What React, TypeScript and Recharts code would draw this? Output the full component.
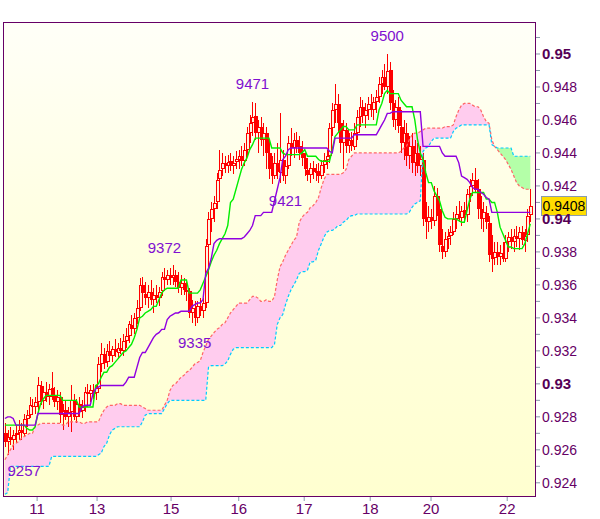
import { ComposedChart, XAxis, YAxis, Area, Line, Bar, ReferenceDot, ReferenceLine } from 'recharts';

// hourly bars, prices in pips (9408 = 0.9408)
const opens = [
  9270, 9265, 9268, 9266, 9269, 9270, 9272, 9270, 9279, 9281,
  9287, 9286, 9289, 9299, 9290, 9295, 9292, 9297, 9293, 9289,
  9292, 9281, 9284, 9280, 9283, 9290, 9280, 9288, 9283, 9286,
  9295, 9294, 9296, 9294, 9297, 9312, 9318, 9313, 9320, 9317,
  9321, 9319, 9322, 9320, 9326, 9329, 9336, 9333, 9340, 9346,
  9360, 9355, 9352, 9356, 9351, 9354, 9352, 9356, 9365, 9363,
  9366, 9364, 9366, 9362, 9358, 9361, 9357, 9356, 9343, 9346,
  9340, 9347, 9344, 9349, 9384, 9400, 9406, 9410, 9424, 9430,
  9434, 9432, 9435, 9432, 9434, 9436, 9438, 9435, 9442, 9452,
  9458, 9462, 9452, 9456, 9448, 9452, 9440, 9430, 9426, 9434,
  9428, 9436, 9426, 9432, 9446, 9443, 9448, 9444, 9440, 9437,
  9430, 9427, 9431, 9428, 9429, 9426, 9433, 9436, 9438, 9455,
  9466, 9470, 9458, 9446, 9454, 9444, 9448, 9444, 9452, 9462,
  9468, 9462, 9466, 9470, 9466, 9471, 9474, 9482, 9486, 9480,
  9490, 9470, 9460, 9468, 9456, 9446, 9452, 9438, 9444, 9434,
  9440, 9432, 9436, 9400, 9398, 9401, 9399, 9414, 9406, 9384,
  9380, 9388, 9390, 9392, 9400, 9403, 9401, 9405, 9402, 9415,
  9420, 9424, 9418, 9406, 9400, 9404, 9398, 9378, 9376, 9380,
  9377, 9379, 9376, 9386, 9389, 9386, 9390, 9388, 9392, 9387,
  9390, 9402,
];
const highs = [
  9276, 9272, 9274, 9272, 9275, 9278, 9276, 9282, 9284, 9292,
  9291, 9292, 9304, 9302, 9298, 9301, 9300, 9307, 9298, 9296,
  9295, 9288, 9290, 9286, 9299, 9294, 9291, 9292, 9290, 9298,
  9300, 9299, 9300, 9299, 9316, 9325, 9322, 9324, 9326, 9323,
  9327, 9325, 9328, 9330, 9334, 9338, 9342, 9343, 9351, 9364,
  9365, 9362, 9360, 9363, 9358, 9360, 9359, 9368, 9370, 9369,
  9370, 9372, 9369, 9368, 9366, 9364, 9362, 9358, 9351, 9350,
  9350, 9352, 9352, 9388, 9404, 9410, 9414, 9428, 9442, 9440,
  9438, 9439, 9440, 9438, 9441, 9442, 9444, 9446, 9456, 9463,
  9471, 9470, 9460, 9462, 9458, 9456, 9448, 9438, 9440, 9446,
  9464, 9442, 9436, 9450, 9455, 9452, 9453, 9450, 9447, 9440,
  9436, 9434, 9435, 9433, 9434, 9436, 9440, 9442, 9458, 9470,
  9482, 9476, 9464, 9460, 9458, 9452, 9453, 9458, 9466, 9474,
  9472, 9470, 9474, 9476, 9474, 9478, 9486, 9490, 9494, 9500,
  9495, 9478, 9472, 9474, 9466, 9460, 9458, 9450, 9452, 9448,
  9446, 9444, 9440, 9410, 9408, 9406, 9420, 9419, 9412, 9394,
  9392, 9394, 9396, 9404, 9408, 9411, 9408, 9410, 9418, 9424,
  9428, 9431, 9424, 9414, 9410, 9408, 9402, 9390, 9386, 9386,
  9384, 9386, 9390, 9392, 9394, 9394, 9396, 9395, 9396, 9394,
  9406, 9418,
];
const lows = [
  9262, 9257, 9263, 9260, 9264, 9266, 9266, 9268, 9274, 9279,
  9283, 9282, 9284, 9287, 9285, 9289, 9287, 9290, 9286, 9284,
  9276, 9272, 9278, 9274, 9271, 9278, 9276, 9280, 9279, 9283,
  9290, 9289, 9291, 9290, 9295, 9307, 9309, 9310, 9314, 9313,
  9316, 9315, 9318, 9317, 9322, 9325, 9330, 9330, 9336, 9344,
  9350, 9348, 9346, 9348, 9343, 9349, 9347, 9353, 9359, 9360,
  9360, 9360, 9359, 9355, 9354, 9354, 9350, 9340, 9337, 9335,
  9337, 9341, 9340, 9346, 9380, 9392, 9398, 9406, 9418, 9426,
  9428, 9428, 9429, 9427, 9430, 9430, 9432, 9432, 9438, 9446,
  9450, 9448, 9440, 9444, 9438, 9430, 9424, 9421, 9424, 9424,
  9422, 9423, 9421, 9430, 9438, 9437, 9440, 9436, 9432, 9426,
  9423, 9422, 9424, 9423, 9422, 9424, 9428, 9430, 9434, 9450,
  9458, 9452, 9440, 9430, 9440, 9440, 9441, 9442, 9448, 9456,
  9458, 9455, 9460, 9462, 9460, 9464, 9470, 9476, 9478, 9476,
  9466, 9456, 9454, 9452, 9440, 9436, 9432, 9430, 9428, 9426,
  9428, 9426, 9396, 9388, 9392, 9394, 9396, 9402, 9380, 9376,
  9377, 9382, 9384, 9390, 9394, 9398, 9396, 9398, 9398, 9410,
  9414, 9416, 9400, 9394, 9392, 9394, 9374, 9368, 9372, 9372,
  9372, 9374, 9374, 9380, 9382, 9380, 9383, 9381, 9384, 9380,
  9386, 9398,
];
const closes = [
  9265, 9268, 9266, 9269, 9270, 9272, 9270, 9279, 9281, 9287,
  9286, 9289, 9299, 9290, 9295, 9292, 9297, 9293, 9289, 9292,
  9281, 9284, 9280, 9283, 9290, 9280, 9288, 9283, 9286, 9295,
  9294, 9296, 9294, 9297, 9312, 9318, 9313, 9320, 9317, 9321,
  9319, 9322, 9320, 9326, 9329, 9336, 9333, 9340, 9346, 9360,
  9355, 9352, 9356, 9351, 9354, 9352, 9356, 9365, 9363, 9366,
  9364, 9366, 9362, 9358, 9361, 9357, 9356, 9343, 9346, 9340,
  9347, 9344, 9349, 9384, 9400, 9406, 9410, 9424, 9430, 9434,
  9432, 9435, 9432, 9434, 9436, 9438, 9435, 9442, 9452, 9458,
  9462, 9452, 9456, 9448, 9452, 9440, 9430, 9426, 9434, 9428,
  9436, 9426, 9432, 9446, 9443, 9448, 9444, 9440, 9437, 9430,
  9427, 9431, 9428, 9429, 9426, 9433, 9436, 9438, 9455, 9466,
  9470, 9458, 9446, 9454, 9444, 9448, 9444, 9452, 9462, 9468,
  9462, 9466, 9470, 9466, 9471, 9474, 9482, 9486, 9480, 9490,
  9470, 9460, 9468, 9456, 9446, 9452, 9438, 9444, 9434, 9440,
  9432, 9436, 9400, 9398, 9401, 9399, 9414, 9406, 9384, 9380,
  9388, 9390, 9392, 9400, 9403, 9401, 9405, 9402, 9415, 9420,
  9424, 9418, 9406, 9400, 9404, 9398, 9378, 9376, 9380, 9377,
  9379, 9376, 9386, 9389, 9386, 9390, 9388, 9392, 9387, 9390,
  9402, 9408,
];

// ichimoku lines
const tenkan = [
  9275, 9275, 9275, 9275, 9275, 9275, 9275, 9275, 9273, 9272,
  9272, 9274, 9282, 9288, 9291, 9293, 9293, 9293, 9293, 9293,
  9293, 9290, 9290, 9290, 9290, 9290, 9290, 9286, 9286, 9286,
  9286, 9286, 9286, 9299, 9300, 9304, 9307, 9307, 9310, 9311,
  9313, 9315, 9317, 9319, 9320, 9322, 9324, 9328, 9333, 9340,
  9341, 9343, 9344, 9345, 9347, 9347, 9351, 9355, 9357, 9358,
  9358, 9358, 9358, 9358, 9363, 9363, 9363, 9355, 9355, 9355,
  9355, 9357, 9361, 9365, 9369, 9374, 9378, 9381, 9385, 9388,
  9391, 9396, 9410, 9412, 9418, 9424, 9430, 9434, 9437, 9442,
  9445, 9449, 9449, 9449, 9449, 9449, 9449, 9443, 9443, 9443,
  9443, 9440, 9439, 9439, 9439, 9439, 9439, 9439, 9440, 9442,
  9438, 9438, 9438, 9438, 9436, 9435, 9435, 9435, 9435, 9442,
  9450, 9452, 9454, 9456, 9456, 9454, 9454, 9454, 9457, 9457,
  9457, 9457, 9457, 9457, 9457, 9457, 9466, 9470, 9476, 9478,
  9476, 9476, 9476, 9476, 9472, 9470, 9468, 9468, 9468, 9460,
  9448, 9440, 9436, 9428, 9422, 9422, 9417, 9414, 9411, 9405,
  9401, 9400, 9400, 9400, 9400, 9399, 9398, 9398, 9405, 9412,
  9416, 9416, 9416, 9416, 9416, 9412, 9412, 9410, 9410, 9404,
  9395, 9391, 9387, 9383, 9383, 9382, 9382, 9382, 9382, 9385,
  9391, 9397,
];
const kijun = [
  9279, 9280, 9280, 9279, 9275, 9275, 9275, 9275, 9275, 9275,
  9275, 9275, 9282, 9282, 9282, 9282, 9282, 9282, 9282, 9282,
  9282, 9282, 9282, 9282, 9282, 9282, 9282, 9282, 9286, 9287,
  9287, 9287, 9294, 9297, 9298, 9299, 9299, 9299, 9299, 9299,
  9299, 9299, 9299, 9299, 9301, 9304, 9304, 9304, 9310, 9316,
  9319, 9319, 9322, 9325, 9328, 9330, 9331, 9333, 9333, 9339,
  9341, 9342, 9343, 9343, 9344, 9344, 9344, 9344, 9347, 9348,
  9349, 9349, 9351, 9367, 9370, 9376, 9385, 9387, 9388, 9388,
  9388, 9388, 9388, 9388, 9388, 9388, 9388, 9389, 9391, 9393,
  9396, 9402, 9402, 9402, 9404, 9404, 9404, 9404, 9411, 9418,
  9425, 9436, 9438, 9442, 9443, 9443, 9443, 9443, 9443, 9443,
  9443, 9443, 9443, 9443, 9443, 9443, 9443, 9443, 9441, 9440,
  9449, 9449, 9449, 9449, 9449, 9449, 9449, 9451, 9451, 9451,
  9451, 9451, 9451, 9451, 9451, 9451, 9454, 9457, 9460, 9464,
  9464, 9465, 9465, 9465, 9465, 9465, 9465, 9465, 9465, 9465,
  9465, 9465, 9444, 9444, 9444, 9444, 9444, 9444, 9444, 9440,
  9438, 9438, 9438, 9438, 9438, 9434, 9426, 9425, 9424, 9422,
  9419, 9418, 9418, 9416, 9415, 9413, 9412, 9404, 9404, 9404,
  9404, 9404, 9404, 9404, 9404, 9404, 9404, 9404, 9404, 9404,
  9404, 9404,
];
const spanA = [
  9254, 9257, 9260, 9263, 9264, 9265, 9267, 9268, 9269, 9270,
  9270, 9274, 9275, 9276, 9276, 9276, 9276, 9276, 9276, 9276,
  9276, 9275, 9275, 9277, 9277, 9277, 9277, 9277, 9276, 9276,
  9277, 9277, 9277, 9277, 9277, 9281, 9284, 9286, 9287, 9287,
  9287, 9288, 9288, 9287, 9287, 9287, 9287, 9287, 9287, 9287,
  9286, 9285, 9284, 9284, 9284, 9284, 9284, 9284, 9287, 9290,
  9296, 9299, 9300, 9302, 9304, 9305, 9307, 9308, 9310, 9312,
  9313, 9314, 9319, 9323, 9327, 9329, 9331, 9333, 9334, 9336,
  9337, 9340, 9343, 9345, 9347, 9349, 9349, 9349, 9349, 9351,
  9353, 9353, 9352, 9350, 9350, 9351, 9350, 9350, 9353, 9363,
  9371, 9374, 9378, 9381, 9384, 9387, 9389, 9398, 9401, 9403,
  9404, 9407, 9408, 9410, 9413, 9419, 9424, 9427, 9427, 9427,
  9427, 9427, 9427, 9428, 9430, 9436, 9438, 9440, 9440, 9440,
  9440, 9440, 9440, 9440, 9440, 9440, 9440, 9440, 9440, 9440,
  9440, 9440, 9440, 9440, 9441, 9443, 9444, 9448, 9451, 9452,
  9452, 9453, 9454, 9455, 9455, 9455, 9455, 9455, 9455, 9455,
  9456, 9456, 9456, 9457, 9462, 9466, 9469, 9470, 9470, 9470,
  9469, 9468, 9468, 9466, 9462, 9459, 9458, 9448, 9444, 9442,
  9440, 9438, 9436, 9433, 9430, 9426, 9422, 9420, 9419, 9418,
  9418, 9418,
];
const spanB = [
  9233, 9234, 9250, 9250, 9250, 9250, 9250, 9250, 9250, 9250,
  9250, 9250, 9250, 9250, 9250, 9250, 9250, 9256, 9256, 9256,
  9256, 9256, 9256, 9256, 9256, 9256, 9256, 9256, 9256, 9256,
  9256, 9256, 9256, 9256, 9257, 9258, 9262, 9264, 9269, 9272,
  9273, 9274, 9274, 9274, 9274, 9274, 9274, 9274, 9274, 9274,
  9277, 9281, 9282, 9282, 9282, 9282, 9282, 9282, 9285, 9288,
  9290, 9290, 9290, 9290, 9290, 9290, 9290, 9290, 9290, 9290,
  9290, 9290, 9290, 9290, 9310, 9311, 9311, 9311, 9311, 9311,
  9312, 9314, 9318, 9321, 9322, 9322, 9322, 9322, 9322, 9322,
  9322, 9322, 9322, 9322, 9322, 9322, 9322, 9322, 9324, 9336,
  9340, 9342, 9348, 9353, 9357, 9360, 9363, 9367, 9368, 9368,
  9369, 9374, 9374, 9375, 9381, 9385, 9389, 9392, 9393, 9393,
  9394, 9396, 9396, 9398, 9399, 9401, 9402, 9402, 9403, 9403,
  9403, 9403, 9403, 9403, 9403, 9403, 9403, 9403, 9403, 9403,
  9403, 9403, 9403, 9403, 9403, 9403, 9403, 9404, 9407, 9409,
  9410, 9411, 9441, 9443, 9444, 9447, 9449, 9449, 9449, 9449,
  9449, 9449, 9449, 9453, 9455, 9456, 9457, 9457, 9457, 9457,
  9457, 9457, 9457, 9457, 9457, 9457, 9457, 9445, 9444, 9443,
  9443, 9443, 9443, 9443, 9443, 9438, 9438, 9438, 9438, 9438,
  9438, 9438,
];

// day boundaries on the bar axis
const dayTicks = [11.7, 33.5, 60.4, 85, 108.8, 132.8, 154.9, 182.6];
const dayLabels = ['11', '13', '15', '16', '17', '18', '20', '22'];

const priceTicks = [
  9240, 9250, 9260, 9270, 9280, 9290, 9300, 9310, 9320, 9330,
  9340, 9350, 9360, 9370, 9380, 9390, 9400, 9410, 9420, 9430,
  9440, 9450, 9460, 9470, 9480, 9490, 9500, 9510,
];

const swingLabels = [
  { text: '9257', bar: 7, price: 9257, kind: 'low' },
  { text: '9372', bar: 58, price: 9372, kind: 'high' },
  { text: '9335', bar: 69, price: 9335, kind: 'low' },
  { text: '9471', bar: 90, price: 9471, kind: 'high' },
  { text: '9421', bar: 102, price: 9421, kind: 'low' },
  { text: '9500', bar: 139, price: 9500, kind: 'high' },
];
const lastPrice = 9408;

const data = opens.map((o, i) => ({
  i,
  o,
  hi: highs[i],
  lo: lows[i],
  c: closes[i],
  t: tenkan[i],
  k: kijun[i],
  a: spanA[i],
  b: spanB[i],
}));

const FONT = '"Liberation Sans", Arial, sans-serif';
const AXIS_TEXT = '#660066';
const CANDLE = '#ff0000';

function Candle(props: any) {
  const { x, y, width, height, payload } = props;
  if (x == null || y == null || !payload) return null;
  const top = Math.round(Math.min(y, y + height));
  const bottom = Math.round(Math.max(y, y + height));
  const full = bottom - top;
  const { o, c, hi, lo } = payload;
  const span = hi - lo || 1;
  const px = (v: number) => top + ((hi - v) / span) * full;
  const cx = Math.round(x + width / 2);
  const bodyTop = Math.round(px(Math.max(o, c)));
  const bodyBot = Math.max(Math.round(px(Math.min(o, c))), bodyTop + 1);
  const up = c >= o;
  return (
    <g shapeRendering="crispEdges">
      <rect x={cx} y={top} width={1} height={Math.max(bodyTop - top, 0)} fill={CANDLE} />
      <rect x={cx} y={bodyBot} width={1} height={Math.max(bottom - bodyBot, 0)} fill={CANDLE} />
      <rect x={cx - 1} y={bodyTop} width={4} height={bodyBot - bodyTop} fill={CANDLE} />
      {up && bodyBot - bodyTop > 2 ? (
        <rect x={cx} y={bodyTop + 1} width={2} height={bodyBot - bodyTop - 2} fill="#fff4e0" />
      ) : null}
    </g>
  );
}

function PriceTick(props: any) {
  const { x, y, payload } = props;
  const v = payload.value;
  if (v % 20 !== 0) return null;
  const major = v % 100 === 0;
  return (
    <text
      x={x}
      y={y}
      dy="0.36em"
      textAnchor="start"
      fill={major ? '#550055' : AXIS_TEXT}
      fontFamily={FONT}
      fontSize={major ? 15 : 14}
      fontWeight={major ? 'bold' : 'normal'}
    >
      {major ? (v / 10000).toFixed(2) : (v / 10000).toFixed(3)}
    </text>
  );
}

function LastPriceBox(props: any) {
  const vb = props.viewBox;
  if (!vb) return null;
  const left = Math.round(vb.x + vb.width + 6);
  const cy = Math.round(vb.y);
  return (
    <g>
      <rect x={left + 0.5} y={cy - 9.5} width={45} height={19} fill="#ffdd00" stroke="#8a9bb0" strokeWidth={1} />
      <text x={left + 23} y={cy} dy="0.36em" textAnchor="middle" fill="#000" fontFamily={FONT} fontSize={14}>
        {(lastPrice / 10000).toFixed(4)}
      </text>
    </g>
  );
}

export default function App() {
  return (
    <div style={{ position: 'absolute', left: 0, top: 0, width: 600, height: 519, background: '#fff' }}>
      <div
        style={{
          position: 'absolute',
          left: 3,
          top: 22,
          width: 532,
          height: 474,
          background: 'linear-gradient(to bottom, #fffff8 0%, #ffffe0 45%, #ffffd0 100%)',
        }}
      />
      <div style={{ position: 'absolute', left: 0, top: 0 }}>
        <ComposedChart width={600} height={519} data={data} margin={{ top: 22, right: 0, bottom: 0, left: 3 }}>
          <XAxis
            dataKey="i"
            type="number"
            domain={[-0.7, 192.7]}
            allowDataOverflow
            ticks={dayTicks}
            interval={0}
            tickFormatter={(_v: number, idx: number) => dayLabels[idx]}
            axisLine={false}
            tickLine={{ stroke: '#8899aa' }}
            tickSize={5}
            height={23}
            tick={{ fill: AXIS_TEXT, fontSize: 15, fontFamily: FONT }}
          />
          <YAxis
            orientation="right"
            type="number"
            domain={[9232, 9519.4]}
            allowDataOverflow
            ticks={priceTicks}
            interval={0}
            width={65}
            axisLine={false}
            tickLine={{ stroke: '#8899aa' }}
            tickSize={5}
            tick={<PriceTick />}
          />
          <Area
            dataKey={(d: any) => [d.b, Math.max(d.a, d.b)]}
            type="linear"
            stroke="none"
            fill="#ffccee"
            fillOpacity={1}
            isAnimationActive={false}
          />
          <Area
            dataKey={(d: any) => [d.a, Math.max(d.a, d.b)]}
            type="linear"
            stroke="none"
            fill="#b4ffa8"
            fillOpacity={1}
            isAnimationActive={false}
          />
          <Line dataKey="a" type="linear" stroke="#ff6666" strokeWidth={1.2} strokeDasharray="3 2" dot={false} isAnimationActive={false} />
          <Line dataKey="b" type="linear" stroke="#00ccff" strokeWidth={1.2} strokeDasharray="3 2" dot={false} isAnimationActive={false} />
          <Bar dataKey={(d: any) => [d.lo, d.hi]} barSize={3} shape={<Candle />} isAnimationActive={false} />
          <Line dataKey="t" type="linear" stroke="#00ee00" strokeWidth={1.4} dot={false} isAnimationActive={false} />
          <Line dataKey="k" type="linear" stroke="#9000e0" strokeWidth={1.4} dot={false} isAnimationActive={false} />
          <ReferenceLine y={lastPrice} stroke="none" label={<LastPriceBox />} />
          {swingLabels.map((s) => (
            <ReferenceDot
              key={s.text}
              x={s.bar}
              y={s.price}
              r={0}
              fill="none"
              stroke="none"
              shape={(p: any) => (
                <text
                  x={p.cx}
                  y={p.cy + (s.kind === 'high' ? -18 : 16)}
                  dy="0.36em"
                  textAnchor="middle"
                  fill="#8010d0"
                  fontFamily={FONT}
                  fontSize={15}
                >
                  {s.text}
                </text>
              )}
            />
          ))}
        </ComposedChart>
      </div>
      <div
        style={{
          position: 'absolute',
          left: 3,
          top: 22,
          width: 533,
          height: 475,
          boxSizing: 'border-box',
          border: '1px solid #660066',
          pointerEvents: 'none',
        }}
      />
    </div>
  );
}
